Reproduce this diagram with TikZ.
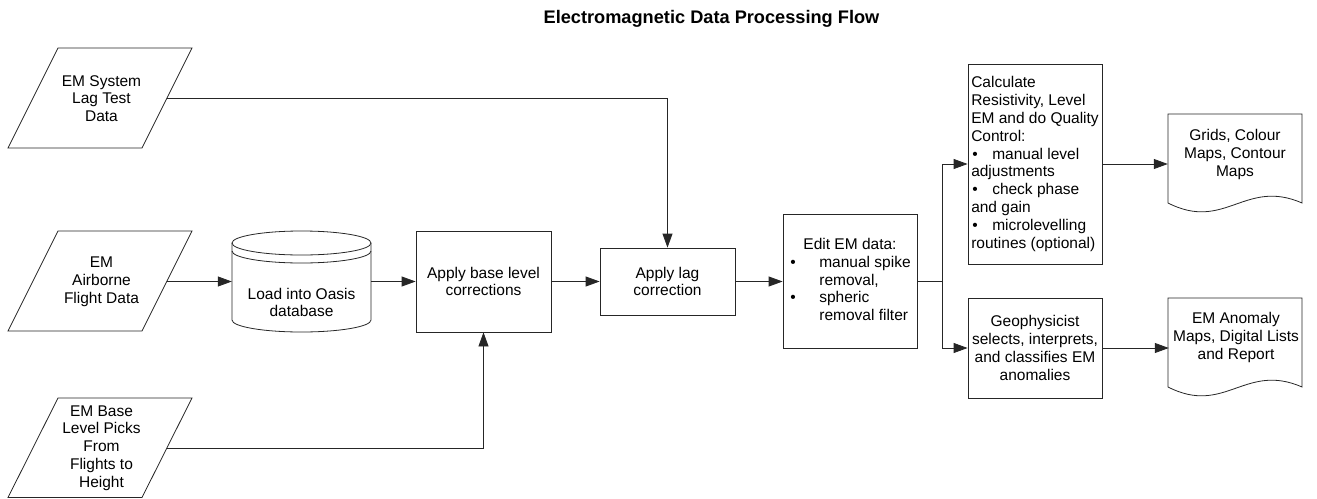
\documentclass[tikz,border=0pt]{standalone}
\usepackage{fontspec}
\setmainfont{Liberation Sans}
\usetikzlibrary{arrows.meta}
\begin{document}
\begin{tikzpicture}[x=1pt,y=-1pt,
  every node/.style={font=\fontsize{15.5}{17.8}\selectfont, align=center, inner sep=0pt},
  outline/.style={draw=black!85, line width=0.8pt},
  box/.style={outline, minimum width=134pt},
  conn/.style={line width=0.8pt, draw=black!85},
  arr/.style={conn, -{Triangle[length=14pt,width=10pt]}},
]
\useasboundingbox (0,0) rectangle (1317,498);

% title
\node[font=\fontsize{18.2}{20}\selectfont\bfseries] (title) at (711.5,18.5) {Electromagnetic Data Processing Flow};

% input parallelograms
\draw[outline] (58,48) -- (192,48) -- (142,148) -- (8,148) -- cycle;
\node (p1) at (101.5,98.5) {EM System\\Lag Test\\Data};
\coordinate (p1e) at (167,98);

\draw[outline] (58,231) -- (192,231) -- (142,331) -- (8,331) -- cycle;
\node (p2) at (101.5,281.5) {EM\\Airborne\\Flight Data};
\coordinate (p2e) at (167,281.5);

\draw[outline] (58,398) -- (192,398) -- (142,497.5) -- (8,497.5) -- cycle;
\node (p3) at (101.5,448) {EM Base\\Level Picks\\From\\Flights to\\Height};
\coordinate (p3e) at (167,448);

% database cylinder
\draw[outline] (301.5,243) ellipse [x radius=69.5, y radius=12];
\draw[outline] (232,251) .. controls (232,257.6) and (263.1,263) .. (301.5,263)
  .. controls (339.9,263) and (371,257.6) .. (371,251);
\draw[outline] (232,243) -- (232,320)
  .. controls (232,326.6) and (263.1,332) .. (301.5,332)
  .. controls (339.9,332) and (371,326.6) .. (371,320) -- (371,243);
\node[minimum width=139pt, minimum height=101pt] (db) at (301.5,281.5) {};
\node (dbt) at (301.5,302.5) {Load into Oasis\\database};

% process boxes
\node[box, minimum width=135pt, minimum height=101pt] (base) at (483.5,281.5) {Apply base level\\corrections};
\node[box, minimum width=135pt, minimum height=67pt] (lag) at (667.5,281.5) {Apply lag\\correction};
\node[box, minimum height=134pt] (edit) at (850,281.5) {%
  \begin{tabular}{@{}l@{}l@{}}
  \multicolumn{2}{@{}c@{}}{Edit EM data:}\\
  \makebox[30pt][l]{\hspace*{1pt}•} & manual spike\\
   & removal,\\
  \makebox[30pt][l]{\hspace*{1pt}•} & spheric\\
   & removal filter
  \end{tabular}};
\node[box, minimum height=200pt, align=left] (calc) at (1035,164) {%
  Calculate\\
  Resistivity, Level\\
  EM and do Quality\\
  Control:\\
  \makebox[21pt][l]{\hspace*{1pt}•}manual level\\
  adjustments\\
  \makebox[21pt][l]{\hspace*{1pt}•}check phase\\
  and gain\\
  \makebox[21pt][l]{\hspace*{1pt}•}microlevelling\\
  routines (optional)};
\node[box, minimum height=100pt] (geo) at (1035,348) {Geophysicist\\selects, interprets,\\and classifies EM\\anomalies};

% output documents
\draw[outline] (1168,114) -- (1302,114) -- (1302,203)
  .. controls (1245,178) and (1225,232) .. (1168,203) -- cycle;
\node[minimum width=134pt] (doc1) at (1235,154.5) {Grids, Colour\\Maps, Contour\\Maps};

\draw[outline] (1168,298) -- (1302,298) -- (1302,387)
  .. controls (1245,362) and (1225,416) .. (1168,387) -- cycle;
\node[minimum width=134pt] (doc2) at (1236,337.5) {EM Anomaly\\Maps, Digital Lists\\and Report};

% connectors
\coordinate (br) at (942,281.5);
\draw[arr] (p1e) -| (lag.north);
\draw[arr] (p2e) -- (db.west);
\draw[arr] (db.east) -- (base.west);
\draw[arr] (p3e) -| (base.south);
\draw[arr] (base.east) -- (lag.west);
\draw[arr] (lag.east) -- (edit.west);
\draw[conn] (edit.east) -- (br);
\draw[arr] (br) |- (calc.west);
\draw[arr] (br) |- (geo.west);
\draw[arr] (calc.east) -- (calc.east -| doc1.west);
\draw[arr] (geo.east) -- (geo.east -| doc2.west);
\end{tikzpicture}
\end{document}
